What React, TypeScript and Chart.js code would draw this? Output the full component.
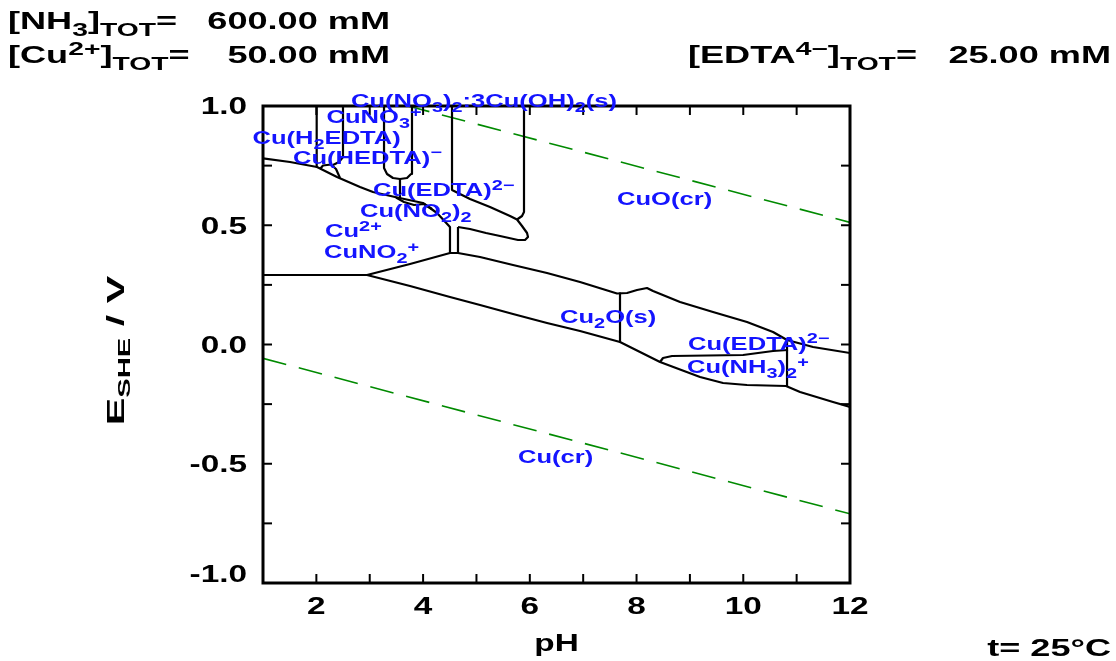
import React, { useEffect, useRef } from "react";
import { Chart, registerables } from "chart.js";
Chart.register(...registerables);

type Pt = [number, number];

// Axis ranges and ticks
const pHRange: [number, number] = [1, 12];
const eRange: [number, number] = [-1, 1];
const xTickLabels = [2, 4, 6, 8, 10, 12];
const yTickLabels = [-1.0, -0.5, 0.0, 0.5, 1.0];
const xTickMarks = [1, 2, 3, 4, 5, 6, 7, 8, 9, 10, 11, 12];
const yTickMarks = [-1, -0.75, -0.5, -0.25, 0, 0.25, 0.5, 0.75, 1];

// Predominance boundaries (pH, E/V)
const bVertPH2: Pt[] = [[2.006, 1.0], [2.006, 0.745]];
const bVertPH25: Pt[] = [[2.499, 1.0], [2.499, 0.786], [2.424, 0.765], [2.312, 0.7526]];
const bLensA: Pt[] = [[2.068, 0.7358], [2.124, 0.7505], [2.274, 0.7547], [2.368, 0.7358], [2.443, 0.6981]];
const bMainDiag: Pt[] = [[1.0, 0.7807], [1.506, 0.7652], [2.012, 0.7442], [2.387, 0.7023], [2.818, 0.6604], [3.061, 0.6394], [3.474, 0.6184], [3.998, 0.5933], [4.261, 0.5514], [4.504, 0.4927]];
const bCup: Pt[] = [[3.268, 1.0], [3.268, 0.74], [3.324, 0.7149], [3.436, 0.6981], [3.567, 0.6939], [3.699, 0.6981], [3.774, 0.7149], [3.792, 0.74], [3.792, 1.0]];
const bStem: Pt[] = [[3.567, 0.6939], [3.567, 0.614]];
const bLensB: Pt[] = [[3.492, 0.6164], [3.642, 0.5975], [3.83, 0.5849], [4.017, 0.5891], [4.167, 0.5681]];
const bNitrateLeft: Pt[] = [[4.542, 1.0], [4.542, 0.6478], [4.879, 0.6101], [5.254, 0.5765], [5.629, 0.5388], [5.76, 0.5241]];
const bNitrateRight: Pt[] = [[5.891, 1.0], [5.891, 0.5556], [5.854, 0.5388], [5.76, 0.5241]];
const bFinger: Pt[] = [[5.76, 0.5241], [5.854, 0.4969], [5.948, 0.4675], [5.966, 0.4507], [5.91, 0.4382], [5.779, 0.4382], [5.442, 0.4549], [5.179, 0.4675], [4.879, 0.4843], [4.654, 0.4927]];
const bTwin: Pt[] = [[4.504, 0.4927], [4.504, 0.3836], [4.654, 0.3836], [4.654, 0.4927]];
const bCu2Flat: Pt[] = [[1.0, 0.2914], [2.949, 0.2914]];
const bCu2oTopLeft: Pt[] = [[2.949, 0.2914], [3.755, 0.3375], [4.504, 0.3836]];
const bCu2oTop: Pt[] = [[4.654, 0.3836], [5.067, 0.3669], [5.685, 0.3333], [6.322, 0.2998], [6.941, 0.2621], [7.634, 0.2138], [7.822, 0.2159], [8.009, 0.2285], [8.196, 0.2369], [8.309, 0.2243], [8.815, 0.1782], [9.433, 0.1363], [10.07, 0.0943], [10.558, 0.0524], [10.82, 0.0189], [11.307, -0.0105], [12.0, -0.0356]];
const bCu2oBottom: Pt[] = [[2.949, 0.2914], [3.755, 0.2453], [4.504, 0.1992], [5.067, 0.1656], [5.685, 0.1279], [6.322, 0.0901], [6.941, 0.0566], [7.69, 0.0105], [8.44, -0.0734], [9.19, -0.1363], [9.621, -0.1614], [10.07, -0.1698], [10.801, -0.174], [11.064, -0.1992], [11.682, -0.2411], [12.0, -0.2621]];
const bCu2oSplit: Pt[] = [[7.69, 0.214], [7.69, 0.0105]];
const bAmmineTop: Pt[] = [[8.44, -0.0734], [8.496, -0.0566], [8.665, -0.0482], [9.996, -0.044], [10.558, -0.0273], [10.839, -0.0231]];
const bAmmineRight: Pt[] = [[10.82, 0.0189], [10.82, -0.174]];

const boundaryLines: Pt[][] = [
  bVertPH2, bVertPH25, bLensA, bMainDiag, bCup, bStem, bLensB, bNitrateLeft, bNitrateRight,
  bFinger, bTwin, bCu2Flat, bCu2oTopLeft, bCu2oTop, bCu2oBottom, bCu2oSplit, bAmmineTop, bAmmineRight,
];

// Water stability limits
const waterO2: Pt[] = [[1, 1.16], [12, 0.512]];
const waterH2: Pt[] = [[1, -0.058], [12, -0.71]];

// Species labels: text, pH (left edge), E (centre)
const speciesText = [
  "Cu(NO_3)_2:3Cu(OH)_2(s)", "CuNO_3^+", "Cu(H_2EDTA)", "Cu(HEDTA)^−", "Cu(EDTA)^{2−}",
  "Cu(NO_2)_2", "CuO(cr)", "Cu^{2+}", "CuNO_2^+", "Cu_2O(s)", "Cu(EDTA)^{2−}", "Cu(NH_3)_2^+", "Cu(cr)",
];
const speciesPH = [2.649, 2.19, 0.803, 1.562, 3.061, 2.818, 7.634, 2.162, 2.143, 6.566, 8.965, 8.946, 5.779];
const speciesE = [1.025, 0.954, 0.866, 0.786, 0.648, 0.562, 0.614, 0.476, 0.388, 0.117, 0.006, -0.094, -0.468];

const headerLeft = ["[NH_3]_{TOT}=", "[Cu^{2+}]_{TOT}="];
const headerLeftValues = ["600.00 mM", "50.00 mM"];
const headerRight = "[EDTA^{4−}]_{TOT}=";
const headerRightValue = "25.00 mM";
const tempText = "t= 25°C";
const xTitle = "pH";
const yTitle = "E_{SHE} / V";

type Seg = { t: string; k: "n" | "b" | "p" };
function parseRich(s: string): Seg[] {
  const out: Seg[] = [];
  let buf = "";
  let i = 0;
  const flush = () => {
    if (buf) { out.push({ t: buf, k: "n" }); buf = ""; }
  };
  while (i < s.length) {
    const c = s[i];
    if (c === "_" || c === "^") {
      flush();
      const k = c === "_" ? "b" : "p";
      if (s[i + 1] === "{") {
        const j = s.indexOf("}", i + 2);
        out.push({ t: s.slice(i + 2, j), k });
        i = j + 1;
      } else {
        out.push({ t: s[i + 1], k });
        i += 2;
      }
    } else {
      buf += c;
      i++;
    }
  }
  flush();
  return out;
}

type RichOpts = { size: number; color: string; sx: number; align: "left" | "right" | "center"; small?: number; rot?: number };
function drawRich(ctx: CanvasRenderingContext2D, text: string, x: number, y: number, o: RichOpts) {
  const segs = parseRich(text);
  const small = o.small ?? 0.8;
  const fontFor = (k: string) =>
    `bold ${k === "n" ? o.size : Math.round(o.size * small)}px "Liberation Sans", Arial, Helvetica, sans-serif`;
  let w = 0;
  for (const s of segs) {
    ctx.font = fontFor(s.k);
    w += ctx.measureText(s.t).width;
  }
  ctx.save();
  ctx.translate(x, y);
  if (o.rot) ctx.rotate(o.rot);
  ctx.scale(o.sx, 1);
  ctx.fillStyle = o.color;
  ctx.textBaseline = "alphabetic";
  ctx.textAlign = "left";
  let cx = o.align === "left" ? 0 : o.align === "right" ? -w : -w / 2;
  const base = o.size * 0.36;
  for (const s of segs) {
    ctx.font = fontFor(s.k);
    const dy = s.k === "b" ? base + o.size * 0.28 : s.k === "p" ? base - o.size * 0.34 : base;
    ctx.fillText(s.t, cx, dy);
    cx += ctx.measureText(s.t).width;
  }
  ctx.restore();
}

const framePlugin = {
  id: "pourbaixFrame",
  afterDraw(chart: any) {
    const { ctx, chartArea: a, scales } = chart;
    const xs = scales.x;
    const ys = scales.y;
    ctx.save();
    ctx.strokeStyle = "#000";
    ctx.lineWidth = 3;
    ctx.strokeRect(a.left, a.top, a.right - a.left, a.bottom - a.top);
    ctx.lineWidth = 2;
    const seg = (x1: number, y1: number, x2: number, y2: number) => {
      ctx.beginPath();
      ctx.moveTo(x1, y1);
      ctx.lineTo(x2, y2);
      ctx.stroke();
    };
    const tl = 9;
    for (const v of xTickMarks) {
      const px = xs.getPixelForValue(v);
      seg(px, a.bottom, px, a.bottom - tl);
      seg(px, a.top, px, a.top + tl);
    }
    for (const v of yTickMarks) {
      const py = ys.getPixelForValue(v);
      seg(a.left, py, a.left + tl, py);
      seg(a.right, py, a.right - tl, py);
    }
    // tick labels
    const tickStyle: RichOpts = { size: 23, color: "#000", sx: 1.45, align: "center" };
    for (const v of xTickLabels) {
      drawRich(ctx, String(v), xs.getPixelForValue(v), a.bottom + 23, tickStyle);
    }
    for (const v of yTickLabels) {
      const py = Math.min(ys.getPixelForValue(v), a.bottom - 9);
      drawRich(ctx, v.toFixed(1), a.left - 16, py, { ...tickStyle, align: "right" });
    }
    // axis titles
    drawRich(ctx, xTitle, (a.left + a.right) / 2, a.bottom + 60, tickStyle);
    drawRich(ctx, yTitle, 115, (a.top + a.bottom) / 2 + 6, { size: 24, color: "#000", sx: 1.72, align: "center", small: 0.7, rot: -Math.PI / 2 });
    // species labels
    for (let i = 0; i < speciesText.length; i++) {
      drawRich(ctx, speciesText[i], xs.getPixelForValue(speciesPH[i]), ys.getPixelForValue(speciesE[i]), {
        size: 18, color: "#1414ff", sx: 1.42, align: "left", small: 0.8,
      });
    }
    // headers
    const hs: RichOpts = { size: 23, color: "#000", sx: 1.57, align: "left", small: 0.8 };
    drawRich(ctx, headerLeft[0], 8, 21, hs);
    drawRich(ctx, headerLeftValues[0], 390, 21, { ...hs, align: "right" });
    drawRich(ctx, headerLeft[1], 8, 55, hs);
    drawRich(ctx, headerLeftValues[1], 390, 55, { ...hs, align: "right" });
    drawRich(ctx, headerRight, 688, 55, hs);
    drawRich(ctx, headerRightValue, 1111, 55, { ...hs, align: "right" });
    drawRich(ctx, tempText, 1111, 648, { ...hs, align: "right" });
    ctx.restore();
  },
};

export default function App() {
  const ref = useRef<HTMLCanvasElement | null>(null);
  useEffect(() => {
    if (!ref.current) return;
    const toXY = (pts: Pt[]) => pts.map(([x, y]) => ({ x, y }));
    const datasets: any[] = boundaryLines.map((pts) => ({
      data: toXY(pts),
      showLine: true,
      borderColor: "#000",
      borderWidth: 2.2,
      pointRadius: 0,
      fill: false,
      tension: 0,
      borderJoinStyle: "round",
    }));
    for (const w of [waterO2, waterH2]) {
      datasets.push({
        data: toXY(w),
        showLine: true,
        borderColor: "#008a00",
        borderWidth: 1.6,
        borderDash: [24, 13],
        pointRadius: 0,
        fill: false,
      });
    }
    const chart = new Chart(ref.current, {
      type: "scatter",
      data: { datasets },
      options: {
        animation: false,
        responsive: false,
        devicePixelRatio: 1,
        layout: { padding: { left: 263, top: 106, right: 266, bottom: 78 } },
        plugins: { legend: { display: false }, tooltip: { enabled: false } },
        scales: {
          x: {
            type: "linear", min: pHRange[0], max: pHRange[1],
            ticks: { display: false }, grid: { display: false, drawTicks: false }, border: { display: false },
          },
          y: {
            type: "linear", min: eRange[0], max: eRange[1],
            ticks: { display: false }, grid: { display: false, drawTicks: false }, border: { display: false },
          },
        },
      },
      plugins: [framePlugin],
    });
    return () => chart.destroy();
  }, []);
  return (
    <div style={{ position: "fixed", left: 0, top: 0, width: 1116, height: 661, background: "#fff" }}>
      <canvas ref={ref} width={1116} height={661} style={{ display: "block" }} />
    </div>
  );
}
